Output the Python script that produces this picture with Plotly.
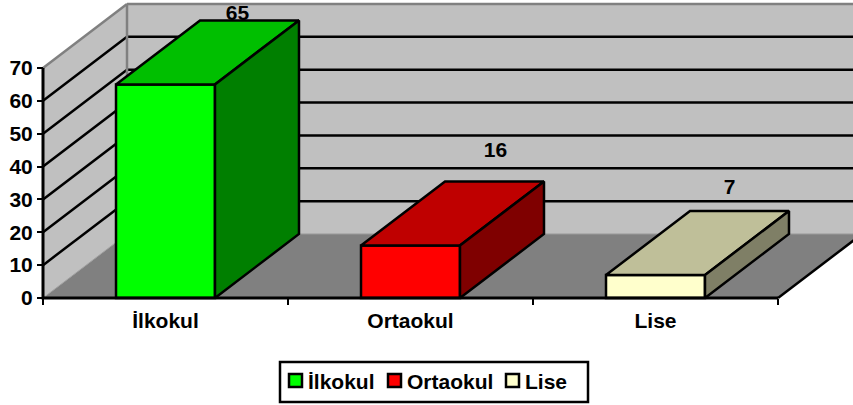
import plotly.graph_objects as go

CATEGORIES = ["İlkokul", "Ortaokul", "Lise"]
VALUES = [65, 16, 7]
Y_TICKS = [0, 10, 20, 30, 40, 50, 60, 70]
FRONT = ["#00FF00", "#FF0000", "#FFFFCC"]
TOP = ["#00BF00", "#BF0000", "#BFBF99"]
SIDE = ["#007F00", "#7F0000", "#7F7F66"]
LABEL_DX = [0.294, 0.347, 0.302]
LABEL_DY = [1.7, 8.9, 6.7]
LEGEND_SWATCH_PX = [288, 387, 505]

W, H = 853, 405
X0_PX, Y0_PX = 43, 298
PX_PER_CAT = 245
PX_PER_UNIT = 3.286
DEPTH_X = 84 / PX_PER_CAT
DEPTH_Y = 64 / PX_PER_UNIT
BAR_W = 0.404
N = len(CATEGORIES)
YMAX = max(Y_TICKS)
FONT = "Liberation Sans, Arial, sans-serif"
BLACK = "#000000"
GREY = "#808080"
WALL = "#C0C0C0"
LW = 2.5
BOLD = dict(family=FONT, size=21, color=BLACK, weight="bold")


def path(pts):
    return "M" + " L".join(f"{x},{y}" for x, y in pts) + " Z"


def seg(x0, y0, x1, y1, color=BLACK, width=LW):
    return dict(type="line", layer="below", xref="x", yref="y", x0=x0, y0=y0, x1=x1, y1=y1,
                line=dict(color=color, width=width))


def poly(pts, fill):
    return dict(type="path", layer="below", xref="x", yref="y", path=path(pts), fillcolor=fill,
                line=dict(width=0))


def page_rect(x0, y0, x1, y1, fill, width):
    return dict(type="rect", layer="above", xref="paper", yref="paper",
                x0=x0 / W, x1=x1 / W, y0=1 - y1 / H, y1=1 - y0 / H,
                fillcolor=fill, line=dict(color=BLACK, width=width))


xr = [-X0_PX / PX_PER_CAT, (W - X0_PX) / PX_PER_CAT]
yr = [-(H - Y0_PX) / PX_PER_UNIT, Y0_PX / PX_PER_UNIT]

shapes = [
    poly([(0, 0), (DEPTH_X, DEPTH_Y), (DEPTH_X, YMAX + DEPTH_Y), (0, YMAX)], WALL),
    poly([(DEPTH_X, DEPTH_Y), (N + DEPTH_X, DEPTH_Y), (N + DEPTH_X, YMAX + DEPTH_Y), (DEPTH_X, YMAX + DEPTH_Y)], WALL),
    poly([(0, 0), (N, 0), (N + DEPTH_X, DEPTH_Y), (DEPTH_X, DEPTH_Y)], GREY),
]
for t in Y_TICKS[1:-1]:
    shapes.append(seg(0, t, DEPTH_X, t + DEPTH_Y))
    shapes.append(seg(DEPTH_X, t + DEPTH_Y, N + DEPTH_X, t + DEPTH_Y))
shapes += [
    seg(0, YMAX, DEPTH_X, YMAX + DEPTH_Y, GREY),
    seg(DEPTH_X, YMAX + DEPTH_Y, N + DEPTH_X, YMAX + DEPTH_Y, GREY),
    seg(DEPTH_X, DEPTH_Y, DEPTH_X, YMAX + DEPTH_Y, GREY),
    seg(0, 0, DEPTH_X, DEPTH_Y, "#A0A0A0", 1),
    seg(DEPTH_X, DEPTH_Y, N + DEPTH_X, DEPTH_Y, "#999999", 1),
    seg(N, 0, N + DEPTH_X, DEPTH_Y),
]

# legend box, swatches and texts
shapes.append(page_rect(280, 362, 588, 402, "white", LW))
annotations = []
for i, c in enumerate(CATEGORIES):
    sx = LEGEND_SWATCH_PX[i]
    shapes.append(page_rect(sx + 1, 374, sx + 14, 387, FRONT[i], LW))
    annotations.append(dict(xref="paper", yref="paper", x=(sx + 20) / W, y=1 - 381 / H,
                            xanchor="left", yanchor="middle", text=c, showarrow=False,
                            font=BOLD, xshift=-1, borderpad=0))

fig = go.Figure()
for i, (c, v) in enumerate(zip(CATEGORIES, VALUES)):
    fig.add_trace(go.Bar(x=[i + 0.5], y=[v], width=BAR_W, name=c, offset=-BAR_W / 2,
                         marker=dict(color=FRONT[i], line=dict(color=BLACK, width=LW)),
                         hoverinfo="skip"))

for i, v in enumerate(VALUES):
    l, r = i + 0.5 - BAR_W / 2, i + 0.5 + BAR_W / 2
    top = [(l, v), (r, v), (r + DEPTH_X, v + DEPTH_Y), (l + DEPTH_X, v + DEPTH_Y), (l, v)]
    side = [(r, 0), (r + DEPTH_X, DEPTH_Y), (r + DEPTH_X, v + DEPTH_Y), (r, v), (r, 0)]
    for pts, col in ((top, TOP[i]), (side, SIDE[i])):
        fig.add_trace(go.Scatter(x=[p[0] for p in pts], y=[p[1] for p in pts], mode="lines",
                                 fill="toself", fillcolor=col,
                                 line=dict(color=BLACK, width=LW),
                                 showlegend=False, hoverinfo="skip"))
    fig.add_trace(go.Scatter(x=[i + 0.5 + LABEL_DX[i]], y=[v + DEPTH_Y + LABEL_DY[i]], mode="text",
                             text=[str(v)], textposition="middle center",
                             textfont=BOLD,
                             showlegend=False, hoverinfo="skip", cliponaxis=False))

# axis lines
fig.add_trace(go.Scatter(x=[0, 0, N], y=[YMAX, 0, 0], mode="lines",
                         line=dict(color=BLACK, width=3), showlegend=False, hoverinfo="skip"))

fig.update_layout(
    width=W, height=H, autosize=False,
    margin=dict(l=0, r=0, t=0, b=0),
    paper_bgcolor="white", plot_bgcolor="white",
    barmode="overlay",
    shapes=shapes,
    annotations=annotations,
    showlegend=False,
    font=dict(family=FONT, color=BLACK, size=21),
    xaxis=dict(range=xr, domain=[0, 1], anchor="free", position=(H - Y0_PX) / H,
               tickmode="array", tickvals=[i + 0.5 for i in range(N)], ticktext=CATEGORIES,
               ticks="", showgrid=False, zeroline=False, showline=False,
               ticklabelstandoff=8,
               tickfont=BOLD,
               minor=dict(tickmode="array", tickvals=list(range(N + 1)), ticks="outside",
                          ticklen=6, tickwidth=2, tickcolor=BLACK, showgrid=False)),
    yaxis=dict(range=yr, domain=[0, 1], anchor="free", position=X0_PX / W,
               tickmode="array", tickvals=Y_TICKS, ticks="outside", ticklen=6, tickwidth=2,
               tickcolor=BLACK, showgrid=False, zeroline=False, showline=False,
               tickfont=BOLD),
)
fig.write_html("out.html", config=dict(displayModeBar=False),
               post_script="document.body.style.margin='0';document.body.style.overflow='hidden';")
